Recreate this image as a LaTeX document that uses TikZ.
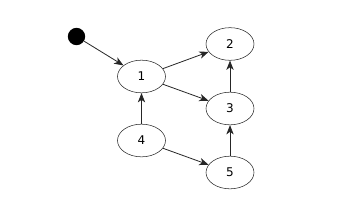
\documentclass[tikz,border=0pt]{standalone}
\usepackage{fontspec}
\setmainfont{DejaVu Sans}
\usepackage{tikz}
\usetikzlibrary{shapes.geometric, arrows.meta}

\begin{document}
\begin{tikzpicture}[x=0.75pt, y=-0.75pt,
    state/.style={ellipse, draw=black!85, fill=white, thin, minimum width=36pt, minimum height=24.5pt, inner sep=0pt, font=\small},
    start/.style={circle, fill=black, minimum size=13pt, inner sep=0pt},
    arrow/.style={-{Stealth[length=7pt, width=5.5pt, inset=2pt]}, draw=black!85, line width=0.6pt}
]
\useasboundingbox (0,0) rectangle (356,200);

% Initial state
\node[start] (init) at (76.5, 36.5) {};

% States
\node[state] (n1) at (141.5, 76.5) {1};
\node[state] (n2) at (230, 44) {2};
\node[state] (n3) at (230, 108.5) {3};
\node[state] (n4) at (141.5, 140.5) {4};
\node[state] (n5) at (230, 172.5) {5};

% Transitions
\draw[arrow] (init) -- (n1);
\draw[arrow] (n1) -- (n2);
\draw[arrow] (n1) -- (n3);
\draw[arrow] (n3) -- (n2);
\draw[arrow] (n4) -- (n1);
\draw[arrow] (n4) -- (n5);
\draw[arrow] (n5) -- (n3);

\end{tikzpicture}
\end{document}
